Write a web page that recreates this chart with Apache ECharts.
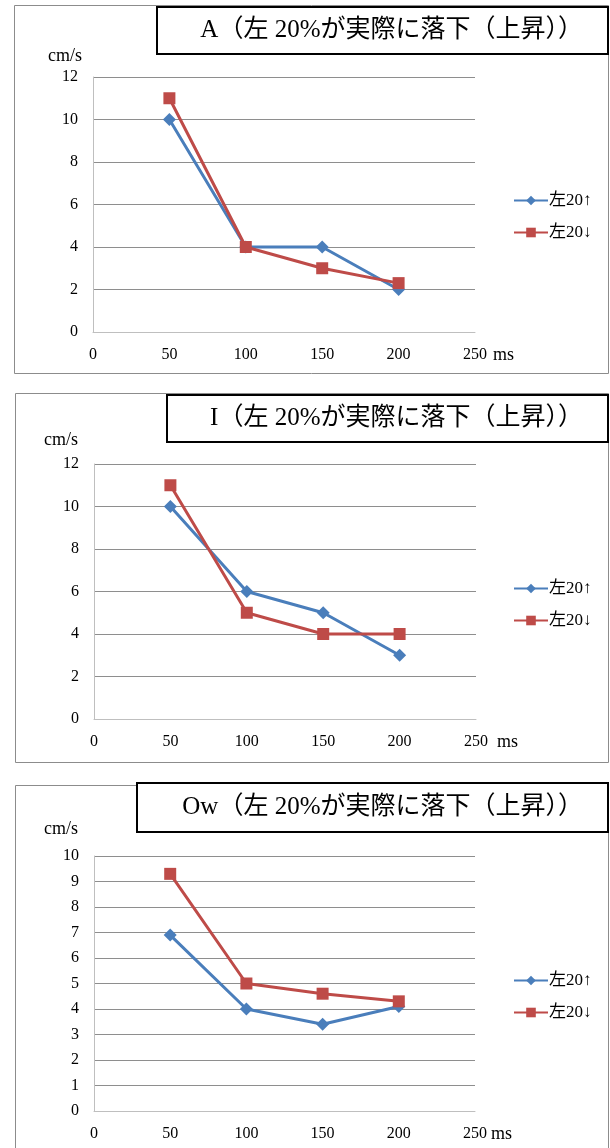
<!DOCTYPE html>
<html>
<head>
<meta charset="utf-8">
<script src="https://cdn.jsdelivr.net/npm/echarts@6/dist/echarts.min.js"></script>
<style>
html,body{margin:0;padding:0;background:#fff;}
#chart{width:610px;height:1148px;}
</style>
</head>
<body>
<div id="chart"></div>
<script>
// ---- data ----
const xValues = [50, 100, 150, 200];
const seriesNames = ['左20↑', '左20↓'];
const titles = [
  'A（左 20%が実際に落下（上昇））',
  'I（左 20%が実際に落下（上昇））',
  'Ow（左 20%が実際に落下（上昇））'
];
const aUp = [10, 4, 4, 2];
const aDown = [11, 4, 3, 2.3];
const iUp = [10, 6, 5, 3];
const iDown = [11, 5, 4, 4];
const owUp = [6.9, 4.0, 3.4, 4.1];
const owDown = [9.3, 5.0, 4.6, 4.3];
const yMaxes = [12, 12, 10];
const yIntervals = [2, 2, 1];
const xTicksMax = 250;
const xInterval = 50;
const xUnit = 'ms';
const yUnit = 'cm/s';

// ---- layout ----
const panels = [
  {up: aUp, down: aDown, grid: {left: 93, top: 77, width: 382, height: 255},
   outer: [14, 5, 594, 368], tbox: [157, 7, 451, 47], titleTop: 18,
   yNameGap: 21, yNamePad: 11, yLabMargin: 15, msGap: 18, legendTop: 192},
  {up: iUp, down: iDown, grid: {left: 94, top: 464, width: 382, height: 255},
   outer: [15, 393, 593, 369], tbox: [167, 395, 441, 47], titleTop: 406,
   yNameGap: 24, yNamePad: 16, yLabMargin: 15, msGap: 21, legendTop: 580},
  {up: owUp, down: owDown, grid: {left: 94, top: 856, width: 381, height: 255},
   outer: [15, 785, 593, 380], tbox: [137, 783, 471, 49], titleTop: 795,
   yNameGap: 27, yNamePad: 16, yLabMargin: 15, msGap: 13, legendTop: 972}
];

const serif = '"Liberation Serif", "Noto Sans CJK JP", serif';
const blue = '#4A7EBB';
const red = '#BE4B48';

const option = {
  animation: false,
  backgroundColor: '#fff',
  title: [], grid: [], xAxis: [], yAxis: [], series: [], legend: [], graphic: []
};

panels.forEach((p, i) => {
  option.graphic.push({
    type: 'rect', silent: true, z: -10,
    shape: {x: p.outer[0] + 0.5, y: p.outer[1] + 0.5, width: p.outer[2], height: p.outer[3]},
    style: {fill: '#fff', stroke: '#8c8c8c', lineWidth: 1}
  });
  option.graphic.push({
    type: 'rect', silent: true, z: -5,
    shape: {x: p.tbox[0], y: p.tbox[1], width: p.tbox[2], height: p.tbox[3]},
    style: {fill: '#fff', stroke: '#000', lineWidth: 2}
  });
  option.title.push({
    text: titles[i], right: 27, top: p.titleTop, padding: 0,
    textStyle: {fontFamily: serif, fontSize: 25, fontWeight: 'normal', color: '#000'}
  });
  option.grid.push(p.grid);
  option.xAxis.push({
    gridIndex: i, type: 'value', min: 0, max: xTicksMax, interval: xInterval,
    name: xUnit, nameLocation: 'end', nameGap: p.msGap,
    nameTextStyle: {fontFamily: serif, fontSize: 18, color: '#000', verticalAlign: 'top', padding: [14, 0, 0, 0]},
    axisLine: {show: true, lineStyle: {color: '#bfbfbf', width: 1}},
    axisTick: {show: false},
    splitLine: {show: false},
    axisLabel: {fontFamily: serif, fontSize: 16, color: '#000', margin: 15}
  });
  option.yAxis.push({
    gridIndex: i, type: 'value', min: 0, max: yMaxes[i], interval: yIntervals[i],
    name: yUnit, nameLocation: 'end', nameGap: p.yNameGap,
    nameTextStyle: {fontFamily: serif, fontSize: 18, color: '#000', align: 'right', verticalAlign: 'middle', padding: [0, p.yNamePad, 0, 0]},
    axisLine: {show: true, lineStyle: {color: '#bfbfbf', width: 1}},
    axisTick: {show: false},
    splitLine: {show: true, lineStyle: {color: '#8e8e8e', width: 1}},
    axisLabel: {fontFamily: serif, fontSize: 16, color: '#000', margin: p.yLabMargin}
  });
  option.series.push({
    name: seriesNames[0], type: 'line', xAxisIndex: i, yAxisIndex: i,
    data: xValues.map((x, k) => [x, p.up[k]]),
    symbol: 'diamond', symbolSize: 13,
    lineStyle: {color: blue, width: 3}, itemStyle: {color: blue}, z: 2
  });
  option.series.push({
    name: seriesNames[1], type: 'line', xAxisIndex: i, yAxisIndex: i,
    data: xValues.map((x, k) => [x, p.down[k]]),
    symbol: 'rect', symbolSize: 12,
    lineStyle: {color: red, width: 3}, itemStyle: {color: red}, z: 3
  });
  option.legend.push({
    orient: 'vertical', left: 513, top: p.legendTop, padding: 0,
    itemWidth: 34, itemHeight: 12, itemGap: 15,
    data: seriesNames,
    textStyle: {fontFamily: serif, fontSize: 17, color: '#000', lineHeight: 16, padding: [0, 0, 0, -4]}
  });
});

const chart = echarts.init(document.getElementById('chart'));
chart.setOption(option);
</script>
</body>
</html>
